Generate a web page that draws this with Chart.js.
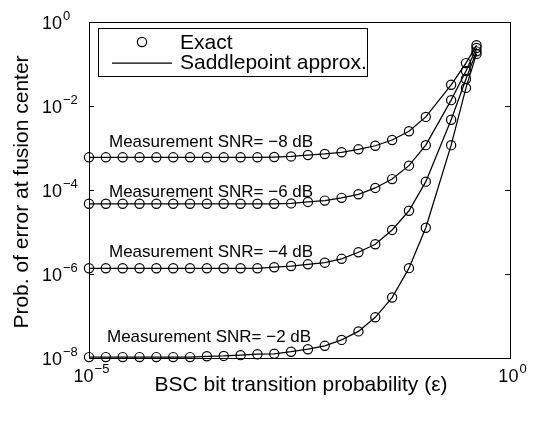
<!DOCTYPE html>
<html>
<head>
<meta charset="utf-8">
<script src="https://cdn.jsdelivr.net/npm/chart.js@4/dist/chart.umd.min.js"></script>
<style>
  html, body { margin: 0; padding: 0; background: #fff; }
  #wrap { width: 533px; height: 424px; }
</style>
</head>
<body>
<div id="wrap"><canvas id="pe-chart" width="533" height="424"></canvas></div>
<script>
// BSC transition probability (x axis)
var eps = [1e-5, 1.585e-5, 2.512e-5, 3.981e-5, 6.310e-5,
           1e-4, 1.585e-4, 2.512e-4, 3.981e-4, 6.310e-4,
           1e-3, 1.585e-3, 2.512e-3, 3.981e-3, 6.310e-3,
           1e-2, 1.585e-2, 2.512e-2, 3.981e-2, 6.310e-2,
           0.1, 0.2, 0.3, 0.4];

// error probability at the fusion center, one array per measurement SNR
var peSnrM8 = [6.0e-4, 6.0e-4, 6.0e-4, 6.0e-4, 6.0e-4, 6.0e-4, 6.0e-4, 6.0e-4, 6.0e-4, 6.0e-4,
               6.0e-4, 6.1e-4, 6.3e-4, 6.8e-4, 7.2e-4, 7.9e-4, 9.3e-4, 1.13e-3, 1.55e-3, 2.5e-3,
               5.5e-3, 3.2e-2, 0.105, 0.28];
var peSnrM6 = [4.7e-5, 4.7e-5, 4.7e-5, 4.7e-5, 4.7e-5, 4.7e-5, 4.7e-5, 4.7e-5, 4.7e-5, 4.7e-5,
               4.7e-5, 4.7e-5, 4.8e-5, 5.2e-5, 5.6e-5, 6.5e-5, 7.9e-5, 1.12e-4, 1.82e-4, 3.8e-4,
               1.17e-3, 1.38e-2, 6.8e-2, 0.24];
var peSnrM4 = [1.37e-6, 1.37e-6, 1.37e-6, 1.37e-6, 1.37e-6, 1.37e-6, 1.37e-6, 1.37e-6, 1.37e-6, 1.37e-6,
               1.37e-6, 1.45e-6, 1.55e-6, 1.7e-6, 1.86e-6, 2.3e-6, 3.3e-6, 5.1e-6, 1.12e-5, 3.2e-5,
               1.58e-4, 4.7e-3, 4.4e-2, 0.20];
var peSnrM2 = [1.05e-8, 1.05e-8, 1.05e-8, 1.05e-8, 1.05e-8, 1.05e-8, 1.05e-8, 1.1e-8, 1.12e-8, 1.17e-8,
               1.23e-8, 1.26e-8, 1.41e-8, 1.62e-8, 1.95e-8, 2.7e-8, 4.3e-8, 9.3e-8, 2.75e-7, 1.38e-6,
               1.26e-5, 1.17e-3, 2.7e-2, 0.174];

var seriesList = [peSnrM8, peSnrM6, peSnrM4, peSnrM2];
var seriesLabels = ['Measurement SNR= \u22128 dB', 'Measurement SNR= \u22126 dB',
                    'Measurement SNR= \u22124 dB', 'Measurement SNR= \u22122 dB'];

// tick exponents (powers of ten)
var xTickExp = [-5, 0];
var yTickExp = [-8, -6, -4, -2, 0];
var legendLabels = ['Exact', 'Saddlepoint approx.'];

var FONT = '"Liberation Sans", Arial, Helvetica, sans-serif';
var MARK_R = 4.6;

function toPoints(ys) {
  return ys.map(function (y, i) { return { x: eps[i], y: y }; });
}

var datasets = [];
seriesList.forEach(function (ys, i) {
  // saddlepoint curve
  datasets.push({
    label: legendLabels[1] + ' ' + i,
    data: toPoints(ys),
    showLine: true,
    borderColor: '#000',
    borderWidth: 1.25,
    pointRadius: 0,
    tension: 0
  });
  // exact values
  datasets.push({
    label: legendLabels[0] + ' ' + i,
    data: toPoints(ys),
    showLine: false,
    borderColor: '#000',
    backgroundColor: 'rgba(0,0,0,0)',
    pointStyle: 'circle',
    pointRadius: MARK_R,
    pointBorderWidth: 1.2,
    clip: false
  });
});

// 10 with a raised exponent
function drawPow(ctx, exp, x, y, mode) {
  var expText = exp < 0 ? '\u2212' + (-exp) : String(exp);
  ctx.font = '18px ' + FONT;
  var baseW = ctx.measureText('10').width;
  ctx.font = '13px ' + FONT;
  var expW = ctx.measureText(expText).width;
  var x0;
  if (mode === 'y') {
    x0 = x - baseW;            // "10" right-aligned at x
  } else {
    x0 = x - (baseW + expW) / 2;
  }
  ctx.textAlign = 'left';
  ctx.textBaseline = 'alphabetic';
  ctx.font = '18px ' + FONT;
  ctx.fillText('10', x0, y);
  ctx.font = '13px ' + FONT;
  ctx.fillText(expText, x0 + baseW + 1, y - 9);
}

var axesPlugin = {
  id: 'matlabAxes',
  afterDraw: function (chart) {
    var ctx = chart.ctx;
    var a = chart.chartArea;
    var xs = chart.scales.x, ys = chart.scales.y;
    ctx.save();
    ctx.strokeStyle = '#000';
    ctx.fillStyle = '#000';
    ctx.lineWidth = 1;

    // box
    ctx.strokeRect(a.left + 0.5, a.top + 0.5, a.right - a.left, a.bottom - a.top);

    // inward ticks on both sides
    var tl = 5;
    ctx.beginPath();
    yTickExp.forEach(function (e) {
      var py = Math.round(ys.getPixelForValue(Math.pow(10, e))) + 0.5;
      ctx.moveTo(a.left, py); ctx.lineTo(a.left + tl, py);
      ctx.moveTo(a.right, py); ctx.lineTo(a.right - tl, py);
    });
    xTickExp.forEach(function (e) {
      var px = Math.round(xs.getPixelForValue(Math.pow(10, e))) + 0.5;
      ctx.moveTo(px, a.bottom); ctx.lineTo(px, a.bottom - tl);
      ctx.moveTo(px, a.top); ctx.lineTo(px, a.top + tl);
    });
    ctx.stroke();

    // tick labels
    yTickExp.forEach(function (e) {
      var py = ys.getPixelForValue(Math.pow(10, e));
      drawPow(ctx, e, a.left - 27, py + 7, 'y');
    });
    xTickExp.forEach(function (e) {
      var px = xs.getPixelForValue(Math.pow(10, e));
      drawPow(ctx, e, px + 2, a.bottom + 24, 'x');
    });

    // axis titles
    ctx.font = '21px ' + FONT;
    ctx.textAlign = 'center';
    ctx.textBaseline = 'middle';
    ctx.fillText('BSC bit transition probability (\u03b5)', 301, 385);
    ctx.save();
    ctx.translate(22, 192);
    ctx.rotate(-Math.PI / 2);
    ctx.fillText('Prob. of error at fusion center', 0, 0);
    ctx.restore();

    // curve labels
    ctx.font = '17px ' + FONT;
    ctx.textAlign = 'left';
    ctx.textBaseline = 'alphabetic';
    var labelPos = [[109, 147], [109, 197], [109, 257], [107, 342]];
    seriesLabels.forEach(function (t, i) {
      ctx.fillText(t, labelPos[i][0], labelPos[i][1]);
    });

    // legend
    ctx.fillStyle = '#fff';
    ctx.fillRect(98, 28, 269, 48);
    ctx.strokeRect(98.5, 28.5, 269, 48);
    ctx.beginPath();
    ctx.lineWidth = 1.2;
    ctx.arc(142, 42, MARK_R, 0, Math.PI * 2);
    ctx.stroke();
    ctx.beginPath();
    ctx.lineWidth = 1.25;
    ctx.moveTo(112, 63); ctx.lineTo(172, 63);
    ctx.stroke();
    ctx.fillStyle = '#000';
    ctx.font = '21px ' + FONT;
    ctx.textBaseline = 'middle';
    ctx.fillText(legendLabels[0], 180, 43);
    ctx.fillText(legendLabels[1], 180, 63);
    ctx.restore();
  }
};

new Chart(document.getElementById('pe-chart'), {
  type: 'scatter',
  data: { datasets: datasets },
  options: {
    responsive: false,
    devicePixelRatio: 1,
    animation: false,
    layout: { padding: { left: 89, right: 23, top: 22, bottom: 66 } },
    plugins: { legend: { display: false }, tooltip: { enabled: false } },
    scales: {
      x: { type: 'logarithmic', min: 1e-5, max: 1, display: false },
      y: { type: 'logarithmic', min: 1e-8, max: 1, display: false }
    }
  },
  plugins: [axesPlugin]
});
</script>
</body>
</html>
